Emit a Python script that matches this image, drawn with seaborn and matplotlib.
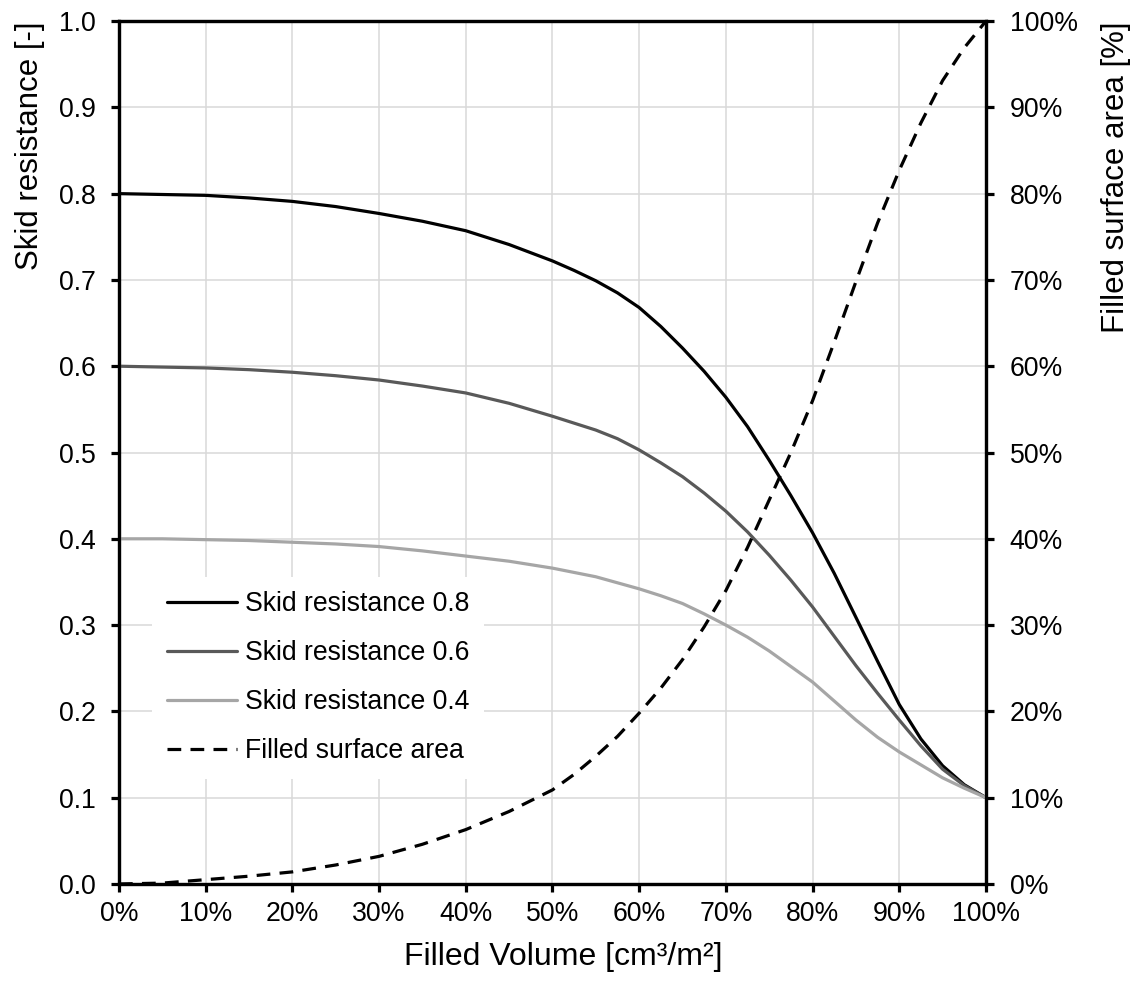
import matplotlib
matplotlib.use("Agg")
import matplotlib.pyplot as plt
import seaborn as sns
import pandas as pd
from matplotlib.lines import Line2D

# ---- data ----
filled_volume = [0, 5, 10, 15, 20, 25, 30, 35, 40, 45, 50,
                 52.5, 55, 57.5, 60, 62.5, 65, 67.5, 70, 72.5, 75,
                 77.5, 80, 82.5, 85, 87.5, 90, 92.5, 95, 97.5, 100]
skid_08 = [0.800, 0.799, 0.798, 0.795, 0.791, 0.785, 0.777, 0.768, 0.757, 0.741, 0.722,
           0.711, 0.699, 0.685, 0.668, 0.646, 0.621, 0.594, 0.564, 0.530, 0.491,
           0.450, 0.407, 0.360, 0.309, 0.258, 0.208, 0.168, 0.137, 0.115, 0.100]
skid_06 = [0.600, 0.599, 0.598, 0.596, 0.593, 0.589, 0.584, 0.577, 0.569, 0.557, 0.542,
           0.534, 0.526, 0.516, 0.503, 0.488, 0.472, 0.453, 0.432, 0.408, 0.381,
           0.352, 0.321, 0.287, 0.253, 0.221, 0.190, 0.160, 0.133, 0.114, 0.100]
skid_04 = [0.400, 0.400, 0.399, 0.398, 0.396, 0.394, 0.391, 0.386, 0.380, 0.374, 0.366,
           0.361, 0.356, 0.349, 0.342, 0.334, 0.325, 0.313, 0.300, 0.286, 0.270,
           0.252, 0.234, 0.212, 0.190, 0.170, 0.153, 0.138, 0.123, 0.111, 0.100]
filled_area = [0.0, 0.1, 0.5, 0.9, 1.4, 2.2, 3.2, 4.6, 6.3, 8.4, 10.9,
               12.7, 14.8, 17.1, 19.8, 22.7, 26.0, 29.8, 34.0, 39.0, 44.5,
               50.0, 56.0, 62.8, 69.8, 76.6, 82.7, 88.2, 93.1, 96.9, 100.0]

series_labels = ["Skid resistance 0.8", "Skid resistance 0.6", "Skid resistance 0.4"]
area_label = "Filled surface area"
x_ticks = list(range(0, 101, 10))
y_ticks = [round(0.1 * i, 1) for i in range(11)]
y2_ticks = list(range(0, 101, 10))

sns.set_style("white")
plt.rcParams["font.family"] = ["Liberation Sans", "DejaVu Sans"]
plt.rcParams["text.color"] = "black"
plt.rcParams["axes.labelcolor"] = "black"

fig = plt.figure(figsize=(11.43, 9.88), dpi=100)
ax = fig.add_axes([0.1041, 0.1053, 0.7585, 0.8734])
ax2 = ax.twinx()

df = pd.DataFrame({"x": filled_volume, "s08": skid_08, "s06": skid_06,
                   "s04": skid_04, "area": filled_area})

colors = ["#000000", "#595959", "#a6a6a6"]
lw = 2.3
dash = (0, (4.3, 2.9))
for col, c in zip(["s08", "s06", "s04"], colors):
    sns.lineplot(data=df, x="x", y=col, ax=ax, color=c, linewidth=lw, zorder=3,
                 solid_joinstyle="round", solid_capstyle="round")
sns.lineplot(data=df, x="x", y="area", ax=ax2, color="black", linewidth=lw,
             linestyle=dash, zorder=3)

ax.set_xlim(0, 100)
ax.set_ylim(0, 1.0)
ax2.set_ylim(0, 100)

ax.set_xticks(x_ticks)
ax.set_xticklabels([f"{v}%" for v in x_ticks])
ax.set_yticks(y_ticks)
ax.set_yticklabels([f"{v:.1f}" for v in y_ticks])
ax2.set_yticks(y2_ticks)
ax2.set_yticklabels([f"{v}%" for v in y2_ticks])

ax.grid(True, color="#d9d9d9", linewidth=1.1)
ax.set_axisbelow(True)
ax2.grid(False)

fs = 19.2
for a in (ax, ax2):
    for s in a.spines.values():
        s.set_color("black")
        s.set_linewidth(2.3)
ax.tick_params(axis="x", direction="out", length=6, width=2.3, colors="black",
               labelsize=fs, pad=6, bottom=True)
ax.tick_params(axis="y", direction="out", length=6, width=2.3, colors="black",
               labelsize=fs, pad=11, left=True)
ax2.tick_params(axis="y", direction="out", length=6, width=2.3, colors="black",
                labelsize=fs, pad=11, right=True)

ax.set_xlabel("Filled Volume [cm³/m²]", fontsize=23)
ax.xaxis.set_label_coords((563 - 119) / 867, -0.067)
ax.set_ylabel("Skid resistance [-]", fontsize=22.5, labelpad=10, loc="top")
ax2.set_ylabel("Filled surface area [%]", fontsize=22.5, labelpad=17, loc="top")

handles = [Line2D([], [], color=c, linewidth=lw) for c in colors]
handles.append(Line2D([], [], color="black", linewidth=lw, linestyle=dash))
leg = ax2.legend(handles, series_labels + [area_label], loc="upper left",
                 bbox_to_anchor=(0.038, 0.356), borderaxespad=0, frameon=True,
                 fontsize=fs, handlelength=2.65, handletextpad=0.3,
                 labelspacing=0.86, borderpad=0.55, fancybox=False)
leg.get_frame().set_facecolor("white")
leg.get_frame().set_edgecolor("none")
leg.get_frame().set_alpha(1)
for t in leg.get_texts():
    t.set_color("black")

fig.savefig("out.png", dpi=100)
